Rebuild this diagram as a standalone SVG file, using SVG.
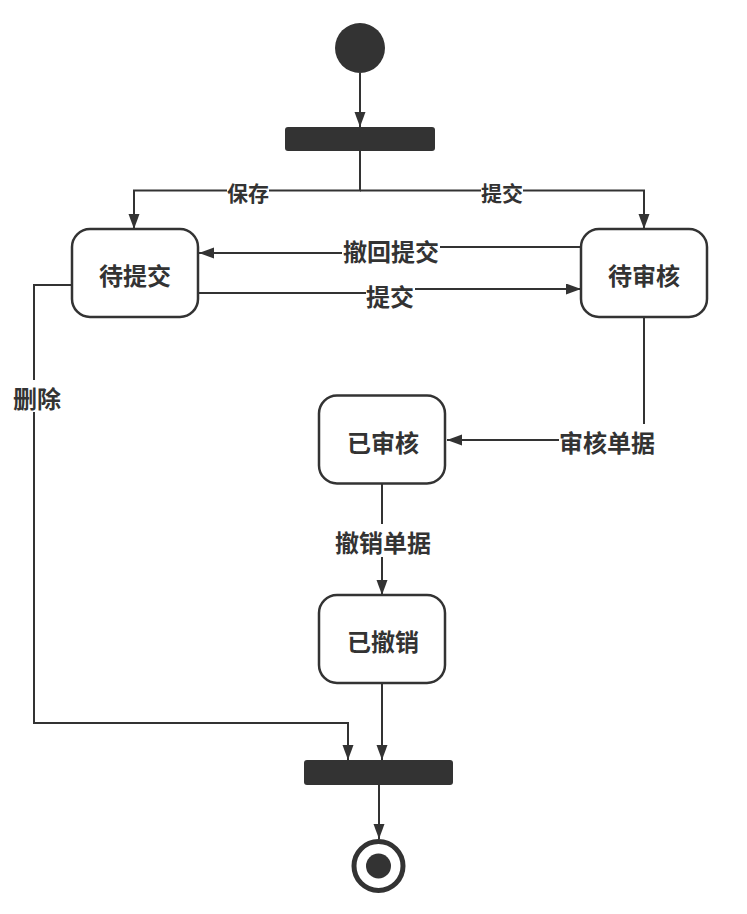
<svg xmlns="http://www.w3.org/2000/svg" width="747" height="914" viewBox="0 0 747 914">
<style>
.node rect{fill:#fff;stroke:#333;stroke-width:2.5}
.bar{fill:#333}
.conn{fill:none;stroke:#333;stroke-width:2}
.lbl{font-family:"Noto Sans CJK SC","Noto Sans",sans-serif;font-weight:bold;fill:#333;text-anchor:middle;dominant-baseline:central}
.t24{font-size:24px}
.t21{font-size:21px}
.bg{fill:#fff}
</style>
<defs>
<marker id="arr" markerUnits="userSpaceOnUse" markerWidth="16" markerHeight="12" refX="15" refY="5.5" orient="auto">
<path d="M0,0 L15,5.5 L0,11 z" fill="#333"/>
</marker>
</defs>
<rect width="747" height="914" fill="#fff"/>
<g id="connectors">
<path class="conn" d="M360,73 V127" marker-end="url(#arr)"/>
<path class="conn" d="M360,151 V190.5 H134 V229" marker-end="url(#arr)"/>
<path class="conn" d="M360,190.5 H644 V229" marker-end="url(#arr)"/>
<path class="conn" d="M581,247 H391 V253 H199" marker-end="url(#arr)"/>
<path class="conn" d="M198,293 H390 V289 H581" marker-end="url(#arr)"/>
<path class="conn" d="M644,317 V440 H447" marker-end="url(#arr)"/>
<path class="conn" d="M382,483 V595" marker-end="url(#arr)"/>
<path class="conn" d="M72,285 H34 V723 H348 V760" marker-end="url(#arr)"/>
<path class="conn" d="M382,683 V760" marker-end="url(#arr)"/>
<path class="conn" d="M379,785 V839" marker-end="url(#arr)"/>
<g id="labels">
<rect class="bg" x="227" y="179" width="42" height="26"/>
<text class="lbl t21" x="248" y="192">保存</text>
<rect class="bg" x="481" y="179" width="42" height="26"/>
<text class="lbl t21" x="502" y="192">提交</text>
<rect class="bg" x="342" y="234" width="98" height="32"/>
<text class="lbl t24" x="391" y="250">撤回提交</text>
<rect class="bg" x="366" y="279" width="49" height="32"/>
<text class="lbl t24" x="390" y="295">提交</text>
<rect class="bg" x="559" y="424" width="96" height="32"/>
<text class="lbl t24" x="607" y="441">审核单据</text>
<rect class="bg" x="335" y="524" width="96" height="33"/>
<text class="lbl t24" x="383" y="541">撤销单据</text>
<rect class="bg" x="12" y="380" width="50" height="32"/>
<text class="lbl t24" x="37" y="397">删除</text>
</g>
</g>
<g id="start"><circle cx="360" cy="48" r="25" fill="#333"/></g>
<g id="fork"><rect class="bar" x="285" y="127" width="150" height="24" rx="3"/></g>
<g id="n-dtj" class="node"><rect x="72" y="229" width="126" height="88" rx="18"/><text class="lbl t24" x="135" y="274">待提交</text></g>
<g id="n-dsh" class="node"><rect x="581" y="229" width="126" height="88" rx="18"/><text class="lbl t24" x="644" y="274">待审核</text></g>
<g id="n-ysh" class="node"><rect x="319" y="395.5" width="126" height="88" rx="18"/><text class="lbl t24" x="383" y="441">已审核</text></g>
<g id="n-ycx" class="node"><rect x="319" y="595" width="126" height="88" rx="18"/><text class="lbl t24" x="383" y="640">已撤销</text></g>
<g id="join"><rect class="bar" x="304" y="760" width="149" height="25" rx="3"/></g>
<g id="end"><circle cx="378.5" cy="866" r="24.5" fill="#fff" stroke="#333" stroke-width="5"/><circle cx="378.5" cy="866" r="12.5" fill="#333"/></g>
</svg>
